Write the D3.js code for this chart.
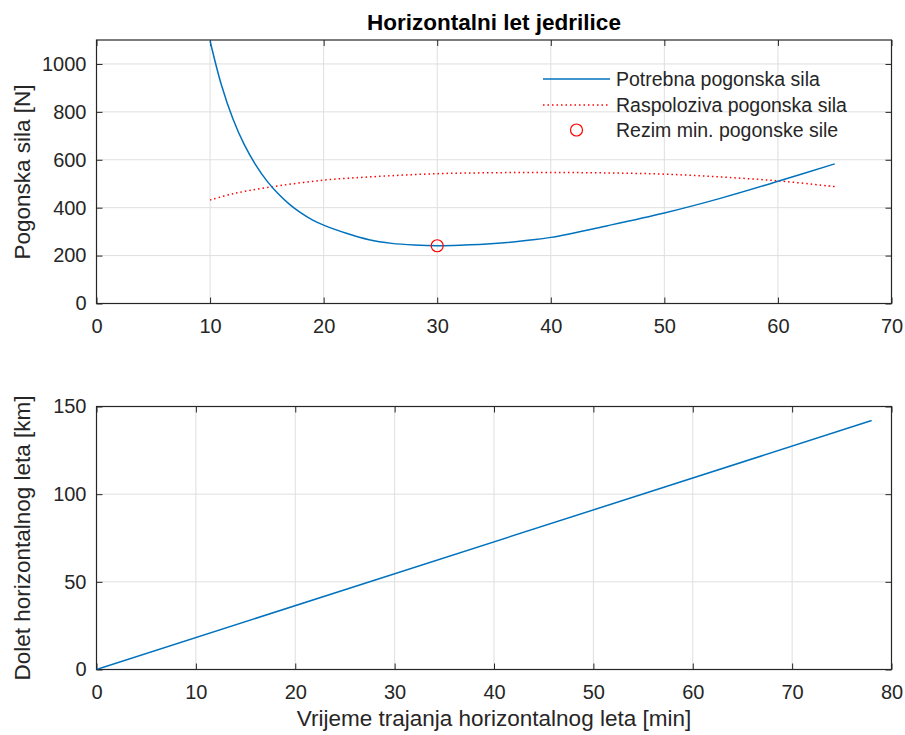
<!DOCTYPE html>
<html>
<head>
<meta charset="utf-8">
<script src="https://cdn.jsdelivr.net/npm/d3@7"></script>
<style>
  html, body { margin: 0; padding: 0; background: #fff; }
  svg { display: block; font-family: "Liberation Sans", Arial, Helvetica, sans-serif; }
</style>
</head>
<body>
<script>
// ---------- data ----------
const timeRequired  = [10, 11, 12, 13, 14, 15, 16, 17, 18, 19, 20, 22, 24, 26, 28, 30, 32, 35, 38, 40, 45, 50, 55, 60, 65];
const forceRequired = [1096, 912, 772, 664, 580, 512, 458, 414, 378, 349, 327, 293, 266, 251, 244, 241, 243, 250, 264, 276, 325, 378, 440, 510, 583];

const timeAvailable  = [10, 12, 15, 20, 25, 30, 35, 40, 45, 50, 55, 60, 65];
const forceAvailable = [432, 458, 484, 515, 531, 542, 546, 547, 545, 540, 528, 512, 488];

const minPointTime  = [30];
const minPointForce = [241];

const timeRange  = [0, 78];
const distRange  = [0, 142];

const xTicksTop    = [0, 10, 20, 30, 40, 50, 60, 70];
const yTicksTop    = [0, 200, 400, 600, 800, 1000];
const xTicksBottom = [0, 10, 20, 30, 40, 50, 60, 70, 80];
const yTicksBottom = [0, 50, 100, 150];

const legendLabels = ["Potrebna pogonska sila", "Raspoloziva pogonska sila", "Rezim min. pogonske sile"];
const titleText = "Horizontalni let jedrilice";
const yLabelTop = "Pogonska sila [N]";
const yLabelBottom = "Dolet horizontalnog leta [km]";
const xLabelBottom = "Vrijeme trajanja horizontalnog leta [min]";

// ---------- layout ----------
const W = 905, H = 735;
const axColor = "#262626";
const gridColor = "#dfdfdf";
const blue = "#0072BD";
const red = "#FF0000";
const tickFont = 20, labelFont = 22.5;

const svg = d3.select("body").append("svg").attr("width", W).attr("height", H);

function panel(box, xDomain, yDomain, xTicks, yTicks) {
  const x = d3.scaleLinear().domain(xDomain).range([box.left, box.right]);
  const y = d3.scaleLinear().domain(yDomain).range([box.bottom, box.top]);
  const g = svg.append("g");
  g.append("g").selectAll("line").data(xTicks).join("line")
    .attr("x1", d => x(d)).attr("x2", d => x(d))
    .attr("y1", box.top).attr("y2", box.bottom)
    .attr("stroke", gridColor).attr("stroke-width", 1);
  g.append("g").selectAll("line").data(yTicks).join("line")
    .attr("y1", d => y(d)).attr("y2", d => y(d))
    .attr("x1", box.left).attr("x2", box.right)
    .attr("stroke", gridColor).attr("stroke-width", 1);

  const tl = 6;
  const bottomAxis = d3.axisBottom(x).tickValues(xTicks).tickSize(-tl).tickPadding(15).tickFormat(d3.format("d"));
  const topAxis = d3.axisTop(x).tickValues(xTicks).tickSize(-tl).tickFormat("");
  const leftAxis = d3.axisLeft(y).tickValues(yTicks).tickSize(-tl).tickPadding(10).tickFormat(d3.format("d"));
  const rightAxis = d3.axisRight(y).tickValues(yTicks).tickSize(-tl).tickFormat("");

  const styleAxis = sel => {
    sel.selectAll("path.domain").remove();
    sel.selectAll(".tick line").attr("stroke", axColor).attr("stroke-width", 1);
    sel.selectAll(".tick text").attr("fill", axColor).style("font-size", tickFont + "px")
       .style("font-family", '"Liberation Sans", Arial, Helvetica, sans-serif');
  };
  g.append("g").attr("transform", `translate(0,${box.bottom})`).call(bottomAxis).call(styleAxis);
  g.append("g").attr("transform", `translate(0,${box.top})`).call(topAxis).call(styleAxis);
  g.append("g").attr("transform", `translate(${box.left},0)`).call(leftAxis).call(styleAxis);
  g.append("g").attr("transform", `translate(${box.right},0)`).call(rightAxis).call(styleAxis);

  g.append("rect").attr("x", box.left).attr("y", box.top)
    .attr("width", box.right - box.left).attr("height", box.bottom - box.top)
    .attr("fill", "none").attr("stroke", axColor).attr("stroke-width", 1.2);

  const clipId = "clip" + Math.round(box.top);
  svg.append("clipPath").attr("id", clipId).append("rect")
    .attr("x", box.left).attr("y", box.top)
    .attr("width", box.right - box.left).attr("height", box.bottom - box.top);
  const plot = svg.append("g").attr("clip-path", `url(#${clipId})`);
  return { x, y, g, plot };
}

// ---------- top panel ----------
const topPanel = panel({ left: 96.5, right: 891.5, top: 40, bottom: 303.5 }, [0, 70], [0, 1100], xTicksTop, yTicksTop);

const lineTop = d3.line().x(d => topPanel.x(d[0])).y(d => topPanel.y(d[1])).curve(d3.curveCatmullRom.alpha(0.5));

topPanel.plot.append("path")
  .datum(d3.zip(timeAvailable, forceAvailable))
  .attr("d", lineTop).attr("fill", "none")
  .attr("stroke", red).attr("stroke-width", 1.5).attr("stroke-dasharray", "1.5 3");

topPanel.plot.append("path")
  .datum(d3.zip(timeRequired, forceRequired))
  .attr("d", lineTop).attr("fill", "none")
  .attr("stroke", blue).attr("stroke-width", 1.5);

topPanel.plot.selectAll("circle").data(d3.zip(minPointTime, minPointForce)).join("circle")
  .attr("cx", d => topPanel.x(d[0])).attr("cy", d => topPanel.y(d[1])).attr("r", 6)
  .attr("fill", "none").attr("stroke", red).attr("stroke-width", 1.2);

// legend (no box)
const leg = svg.append("g");
const legY = [79, 105, 130];
leg.append("line").attr("x1", 543).attr("x2", 610).attr("y1", legY[0]).attr("y2", legY[0])
  .attr("stroke", blue).attr("stroke-width", 1.5);
leg.append("line").attr("x1", 543).attr("x2", 610).attr("y1", legY[1]).attr("y2", legY[1])
  .attr("stroke", red).attr("stroke-width", 1.5).attr("stroke-dasharray", "1.5 3");
leg.append("circle").attr("cx", 576.5).attr("cy", legY[2]).attr("r", 6)
  .attr("fill", "none").attr("stroke", red).attr("stroke-width", 1.2);
leg.selectAll("text").data(legendLabels).join("text")
  .attr("x", 616).attr("y", (d, i) => legY[i] + 7)
  .attr("fill", axColor).style("font-size", "19.5px").text(d => d);

// title & labels
svg.append("text").attr("x", 494).attr("y", 30).attr("text-anchor", "middle")
  .attr("fill", "#000").style("font-size", labelFont + "px").style("font-weight", "bold").text(titleText);
svg.append("text").attr("transform", `translate(30,172) rotate(-90)`).attr("text-anchor", "middle")
  .attr("fill", axColor).style("font-size", labelFont + "px").text(yLabelTop);

// ---------- bottom panel ----------
const botPanel = panel({ left: 96.5, right: 891.5, top: 406.5, bottom: 669.5 }, [0, 80], [0, 150], xTicksBottom, yTicksBottom);
const lineBot = d3.line().x(d => botPanel.x(d[0])).y(d => botPanel.y(d[1]));
botPanel.plot.append("path")
  .datum(d3.zip(timeRange, distRange))
  .attr("d", lineBot).attr("fill", "none")
  .attr("stroke", blue).attr("stroke-width", 1.5);

svg.append("text").attr("transform", `translate(30,538) rotate(-90)`).attr("text-anchor", "middle")
  .attr("fill", axColor).style("font-size", labelFont + "px").text(yLabelBottom);
svg.append("text").attr("x", 494).attr("y", 726).attr("text-anchor", "middle")
  .attr("fill", axColor).style("font-size", labelFont + "px").text(xLabelBottom);
</script>
</body>
</html>
